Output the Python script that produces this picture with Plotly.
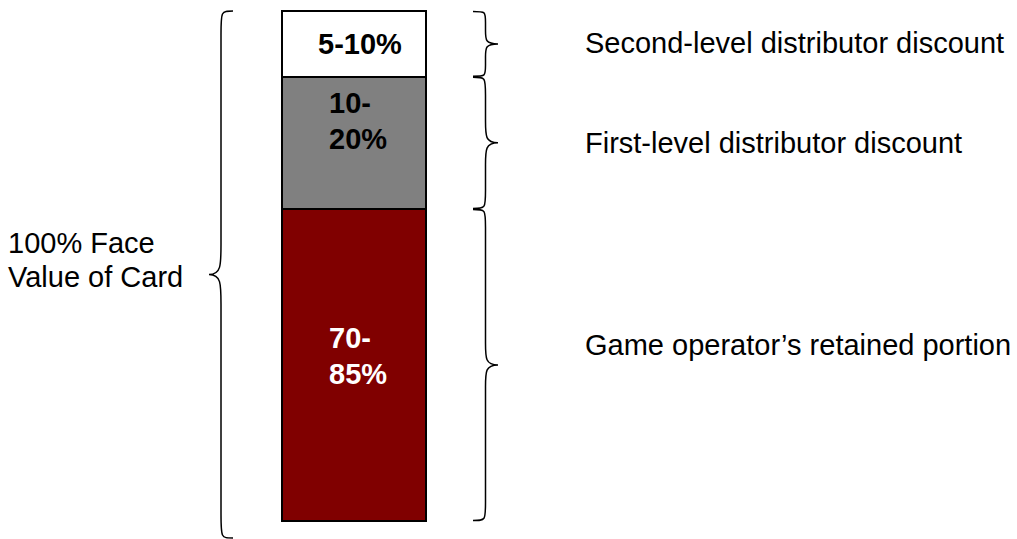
import plotly.graph_objects as go

# Stack, bottom to top
segments = [
    "Game operator’s retained portion",
    "First-level distributor discount",
    "Second-level distributor discount",
]
shares = [61.2, 25.9, 12.9]
share_labels = ["70-\n85%", "10-\n20%", "5-10%"]
fills = ["#800000", "#808080", "#ffffff"]
share_text_colors = ["#ffffff", "#000000", "#000000"]
total_label = "100% Face\nValue of Card"

W, H = 1017, 539
Y_MIN, Y_MAX = -3.53, 102.16
PX = H / (Y_MAX - Y_MIN)  # pixels per percentage point
FONT = "Liberation Sans, Arial, sans-serif"
FS = 29


def u(px):
    """Pixel distance -> y-axis units."""
    return px / PX


def brace_path(x_end, x_tip, y_bot, y_top, r_end, r_tip):
    xm = (x_end + x_tip) / 2
    ym = (y_bot + y_top) / 2
    return (
        f"M {x_end},{y_top} "
        f"C {xm},{y_top} {xm},{y_top} {xm},{y_top - r_end} "
        f"L {xm},{ym + r_tip} "
        f"C {xm},{ym + r_tip * 0.3} {xm},{ym} {x_tip},{ym} "
        f"C {xm},{ym} {xm},{ym - r_tip * 0.3} {xm},{ym - r_tip} "
        f"L {xm},{y_bot + r_end} "
        f"C {xm},{y_bot} {xm},{y_bot} {x_end},{y_bot}"
    )


fig = go.Figure()
bar_x, bar_w = 354, 144
for name, val, col in zip(segments, shares, fills):
    fig.add_trace(go.Bar(
        x=[bar_x], y=[val], width=bar_w, name=name,
        marker=dict(color=col, line=dict(color="black", width=2)),
        hoverinfo="skip",
    ))

shapes = []
annotations = []

bottom = 0.0
desc_shift = [20, 0, 1]
for i, (name, val) in enumerate(zip(segments, shares)):
    top = bottom + val
    seg_px = val * PX
    shapes.append(dict(
        type="path", xref="x", yref="y",
        path=brace_path(473, 498, bottom + u(0.5), top - u(0.5),
                        u(min(18, seg_px / 6)), u(min(22, seg_px / 5))),
        line=dict(color="black", width=1.5),
    ))
    # segment description to the right
    annotations.append(dict(
        x=583, y=bottom + val / 2, xref="x", yref="y",
        text=name, showarrow=False, xanchor="left", yanchor="middle",
        yshift=desc_shift[i],
        font=dict(family=FONT, size=FS, color="black"),
    ))
    # share label inside the bar
    lines = share_labels[i].split("\n")
    if len(lines) == 1:
        annotations.append(dict(
            x=bar_x + 6, y=bottom + val / 2, xref="x", yref="y",
            text=f"<b>{lines[0]}</b>", showarrow=False,
            xanchor="center", yanchor="middle",
            font=dict(family=FONT, size=FS, color=share_text_colors[i]),
        ))
    else:
        start = top - u(26) if i == 1 else bottom + val / 2 + u(27)
        for k, line in enumerate(lines):
            annotations.append(dict(
                x=327, y=start - u(36) * k, xref="x", yref="y",
                text=f"<b>{line}</b>", showarrow=False,
                xanchor="left", yanchor="middle",
                font=dict(family=FONT, size=FS, color=share_text_colors[i]),
            ))
    bottom = top

# brace spanning the whole card value
total = sum(shares)
shapes.append(dict(
    type="path", xref="x", yref="y",
    path=brace_path(233, 209, Y_MIN + u(1), total, u(24), u(30)),
    line=dict(color="black", width=1.5),
))
for k, line in enumerate(total_label.split("\n")):
    annotations.append(dict(
        x=6, y=total / 2 + u(23) - u(34) * k, xref="x", yref="y",
        text=line, showarrow=False, xanchor="left", yanchor="middle",
        font=dict(family=FONT, size=FS, color="black"),
    ))

fig.update_layout(
    width=W, height=H, barmode="stack", showlegend=False,
    margin=dict(l=0, r=0, t=0, b=0),
    plot_bgcolor="white", paper_bgcolor="white",
    xaxis=dict(range=[0, W], visible=False, fixedrange=True),
    yaxis=dict(range=[Y_MIN, Y_MAX], visible=False, fixedrange=True),
    shapes=shapes, annotations=annotations,
)

fig.write_html("out.html")
